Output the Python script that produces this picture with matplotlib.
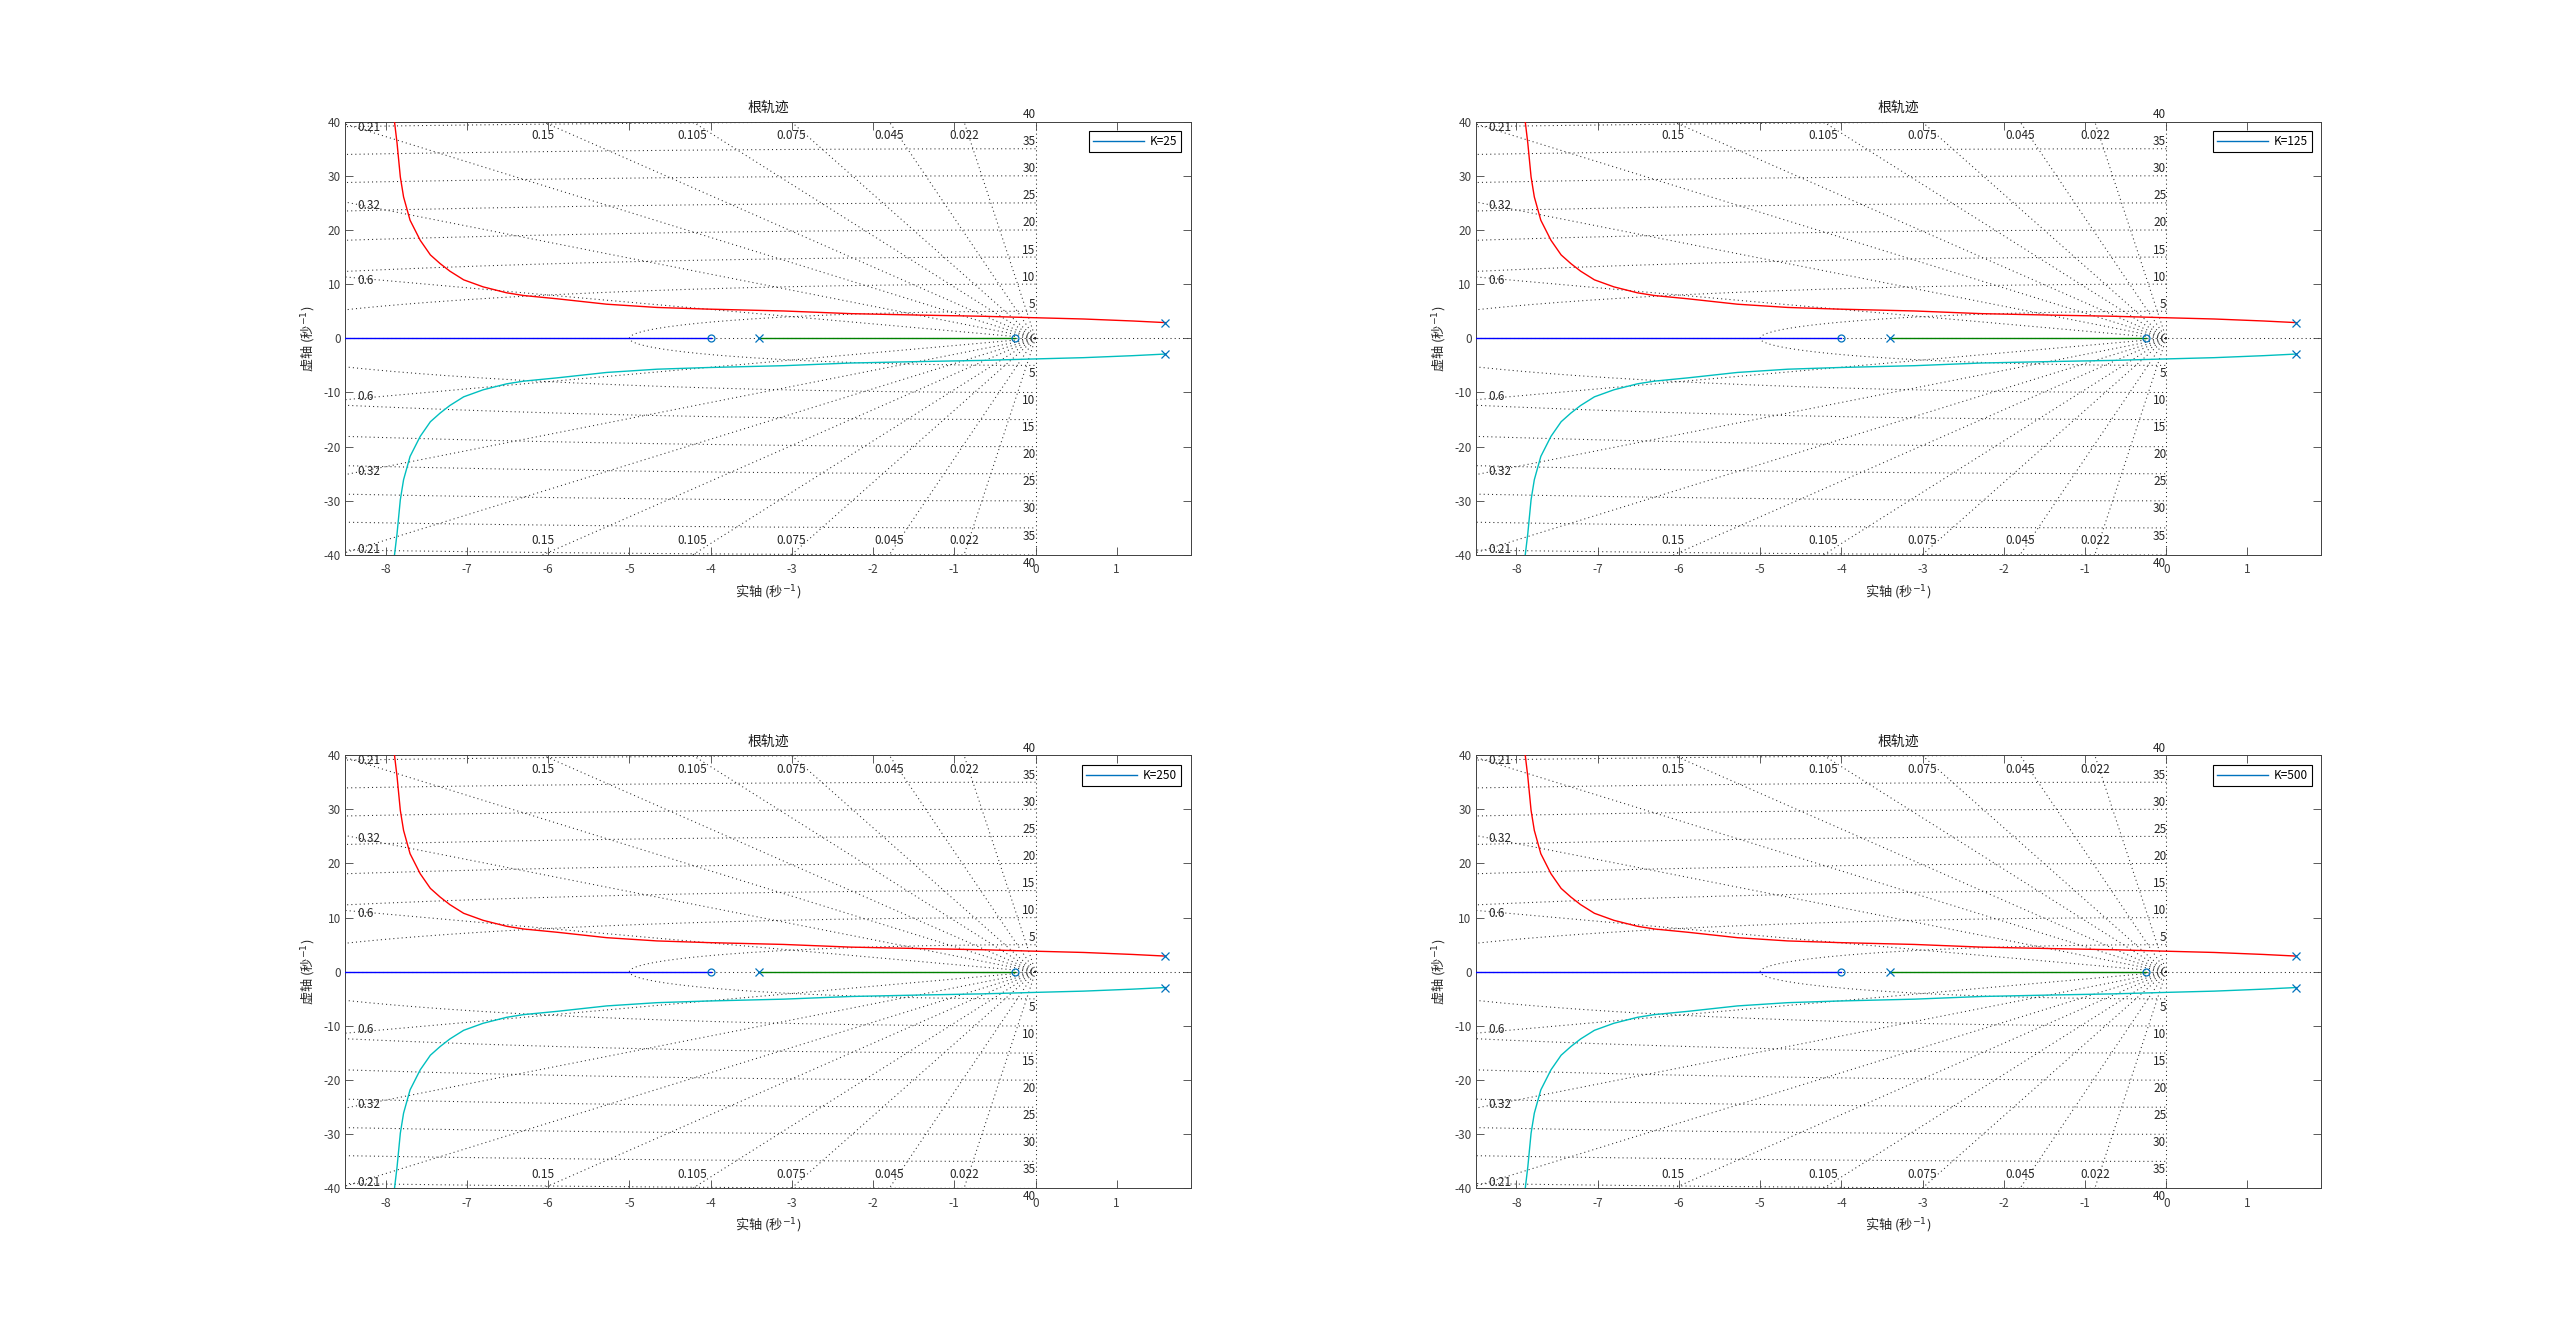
import numpy as np
import matplotlib
matplotlib.use('Agg')
import matplotlib.pyplot as plt
from matplotlib.lines import Line2D

plt.rcParams['font.family'] = ['Noto Sans CJK SC', 'DejaVu Sans']
plt.rcParams['axes.unicode_minus'] = False

# gains shown in the four legends
gains = ['K=25', 'K=125', 'K=250', 'K=500']

# open-loop poles / zeros
pole_re = [1.6, 1.6, -3.4]
pole_im = [2.9, -2.9, 0.0]
zero_re = [-4.0, -0.25]
zero_im = [0.0, 0.0]

# complex branch (upper half)
red_re = [1.60, 1.20, 0.59, 0.00, -0.64, -1.46, -2.28, -3.10, -3.51, -4.05, -4.66,
          -5.28, -5.89, -6.30, -6.51, -6.80, -7.04, -7.21, -7.33, -7.45, -7.575,
          -7.70, -7.78, -7.82, -7.86, -7.895, -7.92]
red_im = [2.90, 3.20, 3.57, 3.80, 4.07, 4.30, 4.56, 5.05, 5.20, 5.40, 5.70,
          6.30, 7.30, 7.90, 8.40, 9.50, 10.8, 12.4, 13.8, 15.4, 18.1,
          21.8, 26.1, 29.8, 36.0, 40.4, 43.0]
# lower branch
cyan_re = red_re
cyan_im = [-2.90, -3.20, -3.57, -3.80, -4.07, -4.30, -4.56, -5.05, -5.20, -5.40, -5.70,
           -6.30, -7.30, -7.90, -8.40, -9.50, -10.8, -12.4, -13.8, -15.4, -18.1,
           -21.8, -26.1, -29.8, -36.0, -40.4, -43.0]
# real-axis branches
blue_re = [-9.0, -4.0]
green_re = [-3.4, -0.25]

# s-grid
zetas = [0.022, 0.045, 0.075, 0.105, 0.15, 0.21, 0.32, 0.6]
wns = [5, 10, 15, 20, 25, 30, 35, 40]

xlo, xhi = -8.5, 1.91
ylo, yhi = -40, 40

lefts = [0.1348, 0.5765]
bottoms = [0.5849, 0.1111]
w, h = 0.3303, 0.3241

fs = 8.5
fig = plt.figure(figsize=(25.6, 13.37), dpi=100)
gcol = '#262626'
dot = dict(color=gcol, lw=0.75, ls=(0, (1, 3)), zorder=1)

for i, lab in enumerate(gains):
    ax = fig.add_axes([lefts[i % 2], bottoms[i // 2], w, h])

    # damping lines and labels
    for z in zetas:
        s = np.sqrt(1 - z**2)
        ax.plot([0, -100 * z], [0, 100 * s], **dot)
        ax.plot([0, -100 * z], [0, -100 * s], **dot)
        xt = -yhi * z / s
        if xt > xlo:
            ax.text(xt, 38.6, str(z), ha='center', va='top', fontsize=fs, color='#262626')
            ax.text(xt, -38.6, str(z), ha='center', va='bottom', fontsize=fs, color='#262626')
        else:
            ye = -xlo * s / z
            ax.text(xlo + 0.15, ye - 0.6, str(z), ha='left', va='center', fontsize=fs, color='#262626')
            ax.text(xlo + 0.15, -ye + 0.6, str(z), ha='left', va='center', fontsize=fs, color='#262626')
    # natural frequency arcs and labels
    th = np.linspace(np.pi / 2, 3 * np.pi / 2, 400)
    for r in wns:
        ax.plot(r * np.cos(th), r * np.sin(th), **dot)
        ax.text(0, r + 0.1, str(r), ha='right', va='bottom', fontsize=fs, color='#262626', clip_on=False)
        ax.text(0, -r - 0.3, str(r), ha='right', va='top', fontsize=fs, color='#262626', clip_on=False)
    ax.plot([xlo, xhi], [0, 0], **dot)
    ax.plot([0, 0], [ylo, yhi], **dot)

    # branches
    ax.plot(red_re, red_im, color='#FF0000', lw=1.0, zorder=3)
    ax.plot(cyan_re, cyan_im, color='#00BFBF', lw=1.0, zorder=3)
    ax.plot(blue_re, [0, 0], color='#0000FF', lw=1.0, zorder=3)
    ax.plot(green_re, [0, 0], color='#008000', lw=1.0, zorder=3)
    ax.plot(pole_re, pole_im, 'x', color='#0072BD', ms=5.5, mew=0.9, zorder=4)
    ax.plot(zero_re, zero_im, 'o', color='#0072BD', ms=5, mew=0.9, fillstyle='none', zorder=4)

    ax.set_xlim(xlo, xhi)
    ax.set_ylim(ylo, yhi)
    ax.set_xticks(range(-8, 2))
    ax.set_yticks(range(-40, 41, 10))
    ax.tick_params(direction='in', top=True, right=True, length=5.5, width=0.6,
                   labelsize=fs, labelcolor='#404040', color='#404040')
    ax.tick_params(axis='x', pad=6)
    ax.tick_params(axis='y', pad=3)
    for sp in ax.spines.values():
        sp.set_color('#404040')
        sp.set_linewidth(0.7)

    ax.set_title('根轨迹', fontsize=10, pad=7, color='#1a1a1a')
    ax.set_xlabel('实轴 (秒$^{-1}$)', fontsize=9.5, color='#262626')
    ax.set_ylabel('虚轴 (秒$^{-1}$)', fontsize=9.5, color='#262626')
    ax.xaxis.set_label_coords(0.5, -0.062)
    ax.yaxis.set_label_coords(-0.034, 0.5)

    hnd = Line2D([], [], color='#0072BD', lw=1.0)
    leg = ax.legend([hnd], [lab], loc='upper right', fontsize=fs, frameon=True,
                    fancybox=False, edgecolor='black', framealpha=1,
                    borderaxespad=0.8, handlelength=4.3, borderpad=0.35, handletextpad=0.5)
    leg.get_frame().set_linewidth(0.8)

fig.savefig('out.png', dpi=100)
